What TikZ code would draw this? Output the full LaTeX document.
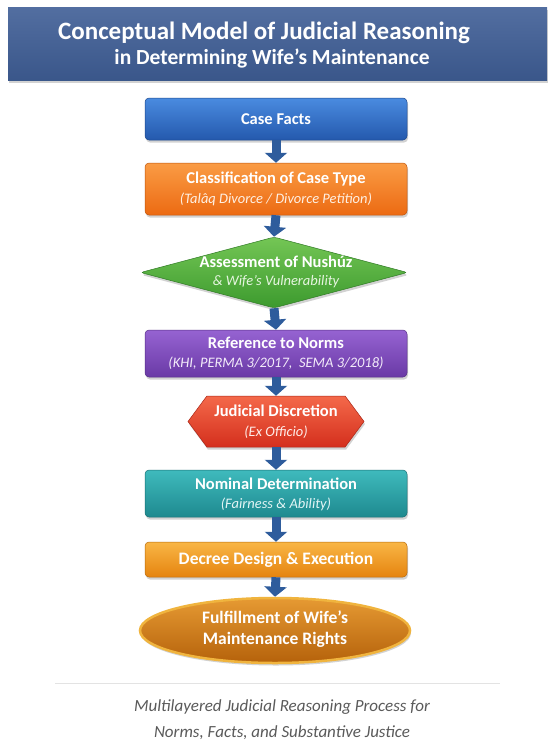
\documentclass[tikz,border=0pt]{standalone}
\usepackage{fontspec}
\setmainfont{Carlito}
\usetikzlibrary{shapes.geometric,shapes.symbols,shadows,arrows.meta}
\definecolor{bannerc}{HTML}{3F5E96}
\definecolor{blueT}{HTML}{4A8BE0}\definecolor{blueB}{HTML}{2459AD}
\definecolor{orangeT}{HTML}{FA9C45}\definecolor{orangeB}{HTML}{EC6A12}
\definecolor{greenT}{HTML}{74C655}\definecolor{greenB}{HTML}{3C9A2E}
\definecolor{purpleT}{HTML}{9663D2}\definecolor{purpleB}{HTML}{6A3AA6}
\definecolor{redT}{HTML}{F4694A}\definecolor{redB}{HTML}{D42F1D}
\definecolor{tealT}{HTML}{3FBABD}\definecolor{tealB}{HTML}{1E8A8F}
\definecolor{amberT}{HTML}{F9B646}\definecolor{amberB}{HTML}{E5840F}
\definecolor{goldT}{HTML}{E69A33}\definecolor{goldB}{HTML}{B5620B}
\definecolor{goldrim}{HTML}{F0B43E}
\definecolor{arrowc}{HTML}{2E5C9C}
\definecolor{footc}{HTML}{5A5A5A}
\tikzset{
  shad/.style={drop shadow={opacity=0.35,shadow xshift=1pt,shadow yshift=-2.5pt}},
  stepbox/.style n args={2}{rectangle, rounded corners=4pt, minimum width=262pt,
     top color=#1, bottom color=#2, draw=#2!80!black, line width=0.5pt,
     text=white, align=center, inner sep=0pt, shad},
  ttl/.style={font=\fontsize{16.5}{19}\selectfont\bfseries, text=white, align=center},
  sub/.style={font=\fontsize{14.5}{17}\selectfont\itshape, align=center},
  blockarrow/.style={line width=9pt, arrowc, -{Triangle[width=22pt,length=10pt]}},
}
\begin{document}
\begin{tikzpicture}[x=1pt,y=-1pt]
\fill[white] (0,0) rectangle (554,745);
\useasboundingbox (0,0) rectangle (554,745);

% banner
\node (banner) [anchor=north west, minimum width=539pt, minimum height=73pt, inner sep=0pt,
  top color=bannerc!90!white, bottom color=bannerc!92!black, shad] at (8,7) {};
\node (title1) [text=white, font=\fontsize{25}{28}\selectfont\bfseries] at (264,33) {Conceptual Model of Judicial Reasoning};
\node (title2) [text=white, font=\fontsize{21.5}{24}\selectfont\bfseries] at (272,58) {in Determining Wife’s Maintenance};

% 1 case facts
\node (facts) [stepbox={blueT}{blueB}, minimum height=42pt] at (276,119) {};
\node (factsT) [ttl] at (276,119) {Case Facts};

% 2 classification
\node (cls) [stepbox={orangeT}{orangeB}, minimum height=52pt] at (276,189) {};
\node (clsT) [ttl] at (276,179) {Classification of Case Type};
\node (clsS) [sub, text=white!85!orangeT] at (276,199) {(Talâq Divorce / Divorce Petition)};

% 3 diamond
\node (nush) [diamond, aspect=3.7, minimum width=267pt, minimum height=71pt, inner sep=0pt,
  top color=greenT, bottom color=greenB, draw=greenB!80!black, line width=0.5pt, rounded corners=3pt, shad] at (274,272.5) {};
\node (nushT) [ttl] at (276,262) {Assessment of Nushúz};
\node (nushS) [sub, text=white!82!greenT] at (276,282) {\& Wife’s Vulnerability};

% 4 norms
\node (norms) [stepbox={purpleT}{purpleB}, minimum height=47pt] at (276,353.5) {};
\node (normsT) [ttl] at (276,343) {Reference to Norms};
\node (normsS) [sub, text=white!88!purpleT] at (276,363) {(KHI, PERMA 3/2017,\ \ SEMA 3/2018)};

% 5 judicial discretion
\node (jud) [signal, signal to=west and east, signal pointer angle=107, minimum width=176pt, minimum height=51pt, inner sep=0pt,
  top color=redT, bottom color=redB, draw=redB!80!black, line width=0.5pt, shad] at (276,421.5) {};
\node (judT) [ttl] at (276,411) {Judicial Discretion};
\node (judS) [sub, text=white!88!redT] at (276,432) {(Ex Officio)};

% 6 nominal
\node (nom) [stepbox={tealT}{tealB}, minimum height=47pt] at (276,493.5) {};
\node (nomT) [ttl] at (276,484) {Nominal Determination};
\node (nomS) [sub, text=white!85!tealT] at (276,504) {(Fairness \& Ability)};

% 7 decree
\node (dec) [stepbox={amberT}{amberB}, minimum height=35pt] at (276,559.5) {};
\node (decT) [ttl, font=\fontsize{17.5}{20}\selectfont\bfseries] at (276,559.5) {Decree Design \& Execution};

% 8 ellipse
\node (ful) [ellipse, minimum width=270pt, minimum height=65pt, inner sep=0pt,
  top color=goldT, bottom color=goldB, draw=goldrim, line width=2.5pt, shad] at (275,630.5) {};
\node (fulT) [ttl, font=\fontsize{17.5}{21}\selectfont\bfseries] at (275,629) {Fulfillment of Wife’s\\Maintenance Rights};

% arrows
\draw[blockarrow] (facts.south) -- (cls.north);
\draw[blockarrow] (cls.south) -- (nush.north);
\draw[blockarrow] (nush.south) -- (norms.north);
\draw[blockarrow] (norms.south) -- (jud.north);
\draw[blockarrow] (jud.south) -- (nom.north);
\draw[blockarrow] (nom.south) -- (dec.north);
\draw[blockarrow] (dec.south) -- (ful.north);

% footer
\draw[gray!22, line width=1pt] (55,683) -- (500,683);
\node (foot) [text=footc, font=\fontsize{17}{26}\selectfont\itshape, align=center] at (282,720) {Multilayered Judicial Reasoning Process for\\Norms, Facts, and Substantive Justice};
\end{tikzpicture}
\end{document}
